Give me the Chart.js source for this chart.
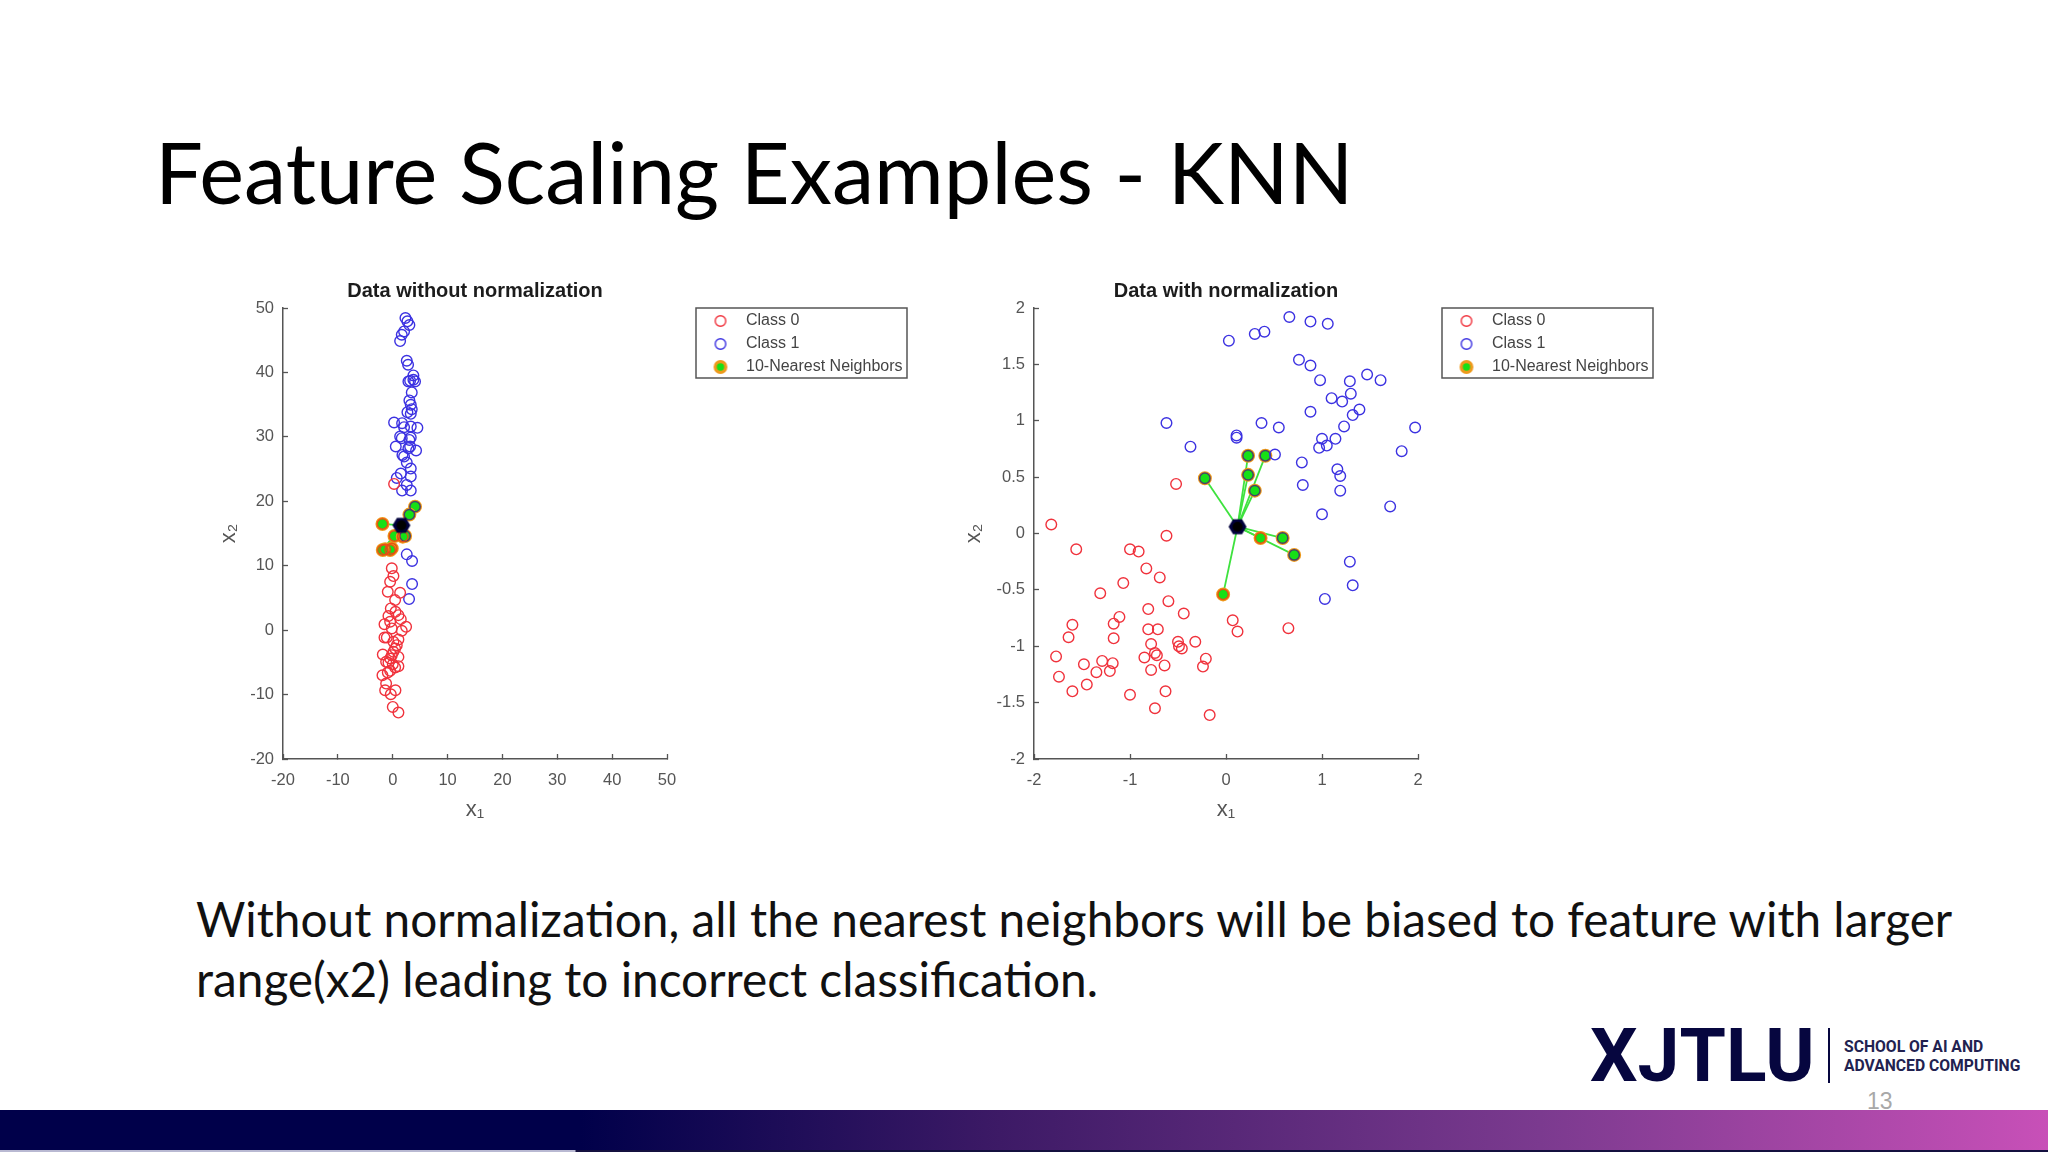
<!DOCTYPE html>
<html>
<head>
<meta charset="utf-8">
<title>Feature Scaling Examples - KNN</title>
<script src="https://cdn.jsdelivr.net/npm/chart.js@4"></script>
<style>
  html, body { margin: 0; padding: 0; background: #fff; }
  body { width: 2048px; height: 1152px; position: relative; overflow: hidden; font-family: Lato, "Open Sans", sans-serif; }
  .abs { position: absolute; white-space: nowrap; }
  canvas { position: absolute; }
  #heading { left: 155px; top: 119px; font-size: 84.8px; line-height: 104px; color: #000; }
  .body-text { left: 196px; font-size: 47.75px; line-height: 60px; color: #111; }
  #logo { left: 1590px; top: 1010px; font-family: Roboto, sans-serif; font-weight: 700; font-size: 75px; line-height: 90px; color: #06063f; }
  #logo-rule { left: 1828px; top: 1028px; width: 2px; height: 55px; background: #06063f; }
  .logo-small { left: 1844px; font-family: Roboto, sans-serif; font-weight: 700; font-size: 15.7px; line-height: 20px; color: #222250; }
  #page-no { left: 1867px; top: 1088px; font-size: 23px; line-height: 26px; color: #a8a8a8; font-family: "Liberation Sans", sans-serif; }
  #bar { left: 0; top: 1110px; width: 2048px; height: 40px;
    background: linear-gradient(90deg, #00004a 0, #00004a 580px, #3d1a66 1000px, #7b3a8f 1540px, #c850b8 2048px); }
  #bar-under { left: 0; top: 1150px; width: 2048px; height: 2px; background: linear-gradient(90deg, #b9b9d2 0, #b9b9d2 575px, #14103f 576px, #14103f 100%); }
</style>
</head>
<body>
<div class="abs" id="heading">Feature Scaling Examples - KNN</div>
<canvas id="left-chart" width="720" height="580" style="left:200px;top:270px;width:720px;height:580px"></canvas>
<canvas id="right-chart" width="710" height="580" style="left:951px;top:270px;width:710px;height:580px"></canvas>
<div class="abs body-text" style="top:889px">Without normalization, all the nearest neighbors will be biased to feature with larger</div>
<div class="abs body-text" style="top:949px">range(x2) leading to incorrect classification.</div>
<div class="abs" id="logo">XJTLU</div>
<div class="abs" id="logo-rule"></div>
<div class="abs logo-small" style="top:1037px">SCHOOL OF AI AND</div>
<div class="abs logo-small" style="top:1056px">ADVANCED COMPUTING</div>
<div class="abs" id="page-no">13</div>
<div class="abs" id="bar"></div>
<div class="abs" id="bar-under"></div>

<script>
// Dados - grafico sem normalizacao
const leftClass0X = [-0.17,0.13,-0.47,-0.90,1.35,0.44,-0.35,0.50,1.04,-0.78,1.47,-0.47,-1.50,2.44,-0.17,1.65,-1.50,-1.08,1.04,0.13,0.74,0.44,0.13,-1.81,-0.17,1.04,-0.47,-1.20,-0.78,0.01,1.04,0.44,-0.47,-0.90,-1.87,-1.20,-1.38,0.50,-0.35,0.01,1.04,0.25];
const leftClass0Y = [9.59,8.39,7.51,5.96,5.79,4.66,3.37,2.85,2.33,2.18,1.71,1.30,0.93,0.52,0.26,-0.10,-1.14,-1.14,-1.45,-1.81,-2.33,-2.85,-3.37,-3.78,-3.89,-4.15,-4.40,-4.92,-5.08,-5.28,-5.60,-5.80,-6.32,-6.58,-7.00,-8.29,-9.33,-9.33,-9.95,-11.92,-12.80,22.69];
const leftClass1X = [2.32,2.68,3.04,2.07,1.65,1.35,2.56,2.80,3.77,3.17,3.77,2.86,4.07,3.47,3.04,3.29,3.47,2.68,3.29,0.25,1.71,2.07,3.29,4.50,1.35,1.65,3.29,3.04,0.56,3.17,2.86,4.26,1.77,2.07,2.56,3.29,1.47,0.74,3.29,2.56,1.71,3.29,2.56,3.53,3.53,2.98];
const leftClass1Y = [48.45,47.93,47.36,46.37,45.85,44.87,41.81,41.19,39.53,38.70,38.86,38.60,38.60,36.89,35.65,34.97,34.30,33.83,33.58,32.23,32.12,31.50,31.61,31.40,30.05,29.79,29.90,29.53,28.50,28.50,28.24,27.88,27.20,26.94,26.01,25.08,24.30,23.63,23.83,22.54,21.66,21.66,11.76,10.73,7.15,4.82];
const leftNear0X = [-1.87,0.32,1.83,-1.38,-0.17,-0.47,-1.81];
const leftNear0Y = [16.48,14.61,14.51,12.54,12.69,12.44,12.44];
const leftNear1X = [4.07,3.04,2.26];
const leftNear1Y = [19.17,17.93,14.61];
const leftQueryX = [1.59];
const leftQueryY = [16.27];

// Dados - grafico com normalizacao
const rightClass0X = [-0.52,-1.82,-1.56,-1.00,-0.91,-0.62,-0.83,-0.69,-1.07,-1.31,-0.60,-0.81,-0.44,-1.11,-1.17,-1.60,0.07,0.65,0.12,-0.81,-0.71,-1.64,-1.17,-0.50,-0.32,-0.78,-0.49,-0.46,-0.74,-0.72,-1.77,-0.85,-0.21,-1.48,-1.29,-1.18,-0.64,-0.24,-0.78,-1.21,-1.35,-1.74,-1.45,-1.60,-0.63,-1.00,-0.74,-0.17];
const rightClass0Y = [0.44,0.08,-0.14,-0.14,-0.16,-0.02,-0.31,-0.39,-0.44,-0.53,-0.60,-0.67,-0.71,-0.74,-0.80,-0.81,-0.77,-0.84,-0.87,-0.85,-0.85,-0.92,-0.93,-0.96,-0.96,-0.98,-1.00,-1.02,-1.06,-1.08,-1.09,-1.10,-1.11,-1.16,-1.13,-1.15,-1.17,-1.18,-1.21,-1.22,-1.23,-1.27,-1.34,-1.40,-1.40,-1.43,-1.55,-1.61];
const rightClass1X = [0.03,0.30,0.40,0.66,0.88,1.06,0.76,0.88,0.98,1.29,1.47,1.61,1.30,1.10,1.21,0.88,1.39,1.32,-0.62,0.37,0.55,1.23,1.97,0.11,0.11,1.00,1.14,1.05,0.97,-0.37,1.83,0.51,0.79,1.16,1.19,0.80,1.19,1.71,1.00,1.29,1.32,1.03];
const rightClass1Y = [1.71,1.77,1.79,1.92,1.88,1.86,1.54,1.49,1.36,1.35,1.41,1.36,1.24,1.20,1.17,1.08,1.10,1.05,0.98,0.98,0.94,0.95,0.94,0.87,0.85,0.84,0.84,0.78,0.76,0.77,0.73,0.70,0.63,0.57,0.51,0.43,0.38,0.24,0.17,-0.25,-0.46,-0.58];
const rightNear0X = [0.36,-0.03];
const rightNear0Y = [-0.04,-0.54];
const rightNear1X = [0.23,0.41,0.23,0.30,-0.22,0.59,0.71];
const rightNear1Y = [0.69,0.69,0.52,0.38,0.49,-0.04,-0.19];
const rightQueryX = [0.12];
const rightQueryY = [0.06];

const legendLabels = ['Class 0', 'Class 1', '10-Nearest Neighbors'];

const RED = 'rgb(240,50,60)';
const BLUE = 'rgb(60,50,225)';
const ORANGE = '#ee9a1c';
const GREEN = '#16e016';
const LINE_GREEN = '#3ee23e';
const AXIS = '#555555';

function zip(xs, ys) {
  return xs.map((x, i) => ({ x: x, y: ys[i] }));
}

// Desenha um marcador pequeno para usar como pointStyle na legenda
function markerCanvas(stroke, fill, radius, lineWidth) {
  const c = document.createElement('canvas');
  c.width = c.height = 24;
  const ctx = c.getContext('2d');
  ctx.beginPath();
  ctx.arc(12, 12, radius, 0, Math.PI * 2);
  if (fill) { ctx.fillStyle = fill; ctx.fill(); }
  ctx.strokeStyle = stroke;
  ctx.lineWidth = lineWidth;
  ctx.stroke();
  return c;
}

function hexagonCanvas() {
  const c = document.createElement('canvas');
  c.width = c.height = 20;
  const ctx = c.getContext('2d');
  ctx.beginPath();
  for (let i = 0; i < 6; i++) {
    const a = Math.PI / 3 * i;
    ctx.lineTo(10 + 9 * Math.cos(a), 10 + 8.6 * Math.sin(a));
  }
  ctx.closePath();
  ctx.fillStyle = '#00003c';
  ctx.fill();
  ctx.beginPath();
  ctx.arc(10, 10, 5, 0, Math.PI * 2);
  ctx.fillStyle = '#000';
  ctx.fill();
  return c;
}

const legendMarkers = [
  markerCanvas(RED, null, 5.3, 1.4),
  markerCanvas(BLUE, null, 5.3, 1.4),
  markerCanvas(ORANGE, GREEN, 5.3, 3.2)
];

// Coloca a legenda no lugar certo e desenha a moldura dela
const legendFrame = {
  id: 'legendFrame',
  afterLayout(chart, args, opts) {
    const legend = chart.legend;
    legend.left = opts.x;
    legend.right = opts.x + opts.w;
    legend.top = opts.y - 2;
    legend.bottom = chart.height;
  },
  afterDraw(chart, args, opts) {
    const ctx = chart.ctx;
    ctx.save();
    ctx.strokeStyle = AXIS;
    ctx.lineWidth = 1.5;
    ctx.strokeRect(opts.x, opts.y, opts.w, opts.h);
    ctx.restore();
  }
};

function makeChart(id, cfg) {
  const points = (data, extra) => Object.assign({
    data: data, showLine: false, pointHoverRadius: 0, clip: false
  }, extra);

  const near = zip(cfg.near0X, cfg.near0Y).concat(zip(cfg.near1X, cfg.near1Y));
  const query = zip(cfg.queryX, cfg.queryY);

  const lineSets = near.map(p => ({
    data: [query[0], p], showLine: true, pointRadius: 0,
    borderColor: LINE_GREEN, borderWidth: 1.8, order: 4
  }));

  return new Chart(document.getElementById(id), {
    type: 'scatter',
    data: {
      datasets: [
        points(zip(cfg.class0X, cfg.class0Y), { pointRadius: 5.3, pointBorderWidth: 1.4, pointBorderColor: RED, pointBackgroundColor: 'transparent', order: 2 }),
        points(zip(cfg.class1X, cfg.class1Y), { pointRadius: 5.3, pointBorderWidth: 1.4, pointBorderColor: BLUE, pointBackgroundColor: 'transparent', order: 2 }),
        points(near, { pointRadius: 6, pointBorderWidth: 2, pointBorderColor: ORANGE, pointBackgroundColor: GREEN, order: 3 }),
        points(zip(cfg.near0X, cfg.near0Y), { pointRadius: 5.2, pointBorderWidth: 1.5, pointBorderColor: 'rgba(235,70,20,0.85)', pointBackgroundColor: 'transparent', order: 2 }),
        points(zip(cfg.near1X, cfg.near1Y), { pointRadius: 5.2, pointBorderWidth: 1.5, pointBorderColor: 'rgba(60,55,110,0.9)', pointBackgroundColor: 'transparent', order: 2 }),
        points(query, { pointStyle: hexagonCanvas(), pointRadius: 9, order: 0 })
      ].concat(lineSets)
    },
    plugins: [legendFrame],
    options: {
      responsive: false,
      animation: false,
      events: [],
      layout: { padding: { right: cfg.padRight } },
      plugins: {
        tooltip: { enabled: false },
        title: {
          display: true,
          text: cfg.title,
          fullSize: false,
          color: '#1c1c1c',
          font: { family: 'Liberation Sans', size: 20, weight: 'bold' },
          padding: { top: 9, bottom: 5 }
        },
        legend: {
          position: 'right',
          align: 'start',
          maxWidth: 211,
          labels: {
            color: '#444',
            font: { family: 'Liberation Sans', size: 16 },
            usePointStyle: true,
            pointStyleWidth: 35,
            padding: 7,
            generateLabels: () => legendLabels.map((text, i) => ({
              text: text, pointStyle: legendMarkers[i], fontColor: '#444', lineWidth: 0, datasetIndex: i
            }))
          }
        },
        legendFrame: cfg.frame
      },
      scales: {
        x: {
          min: cfg.xMin, max: cfg.xMax,
          afterFit: s => { s.height = 91; },
          border: { color: AXIS, width: 1.5 },
          grid: { drawOnChartArea: false, tickLength: -5, color: AXIS, tickWidth: 1.3 },
          ticks: { stepSize: cfg.xStep, padding: 16.8, maxRotation: 0, autoSkip: false, color: '#555', font: { family: 'Liberation Sans', size: 16.5 }, callback: v => String(v) },
          title: { display: true, text: 'x₁', color: '#555', font: { family: 'Liberation Sans', size: 22 }, padding: { top: 0, bottom: 27 } }
        },
        y: {
          min: cfg.yMin, max: cfg.yMax,
          afterFit: s => { s.width = cfg.yWidth; },
          border: { color: AXIS, width: 1.5 },
          grid: { drawOnChartArea: false, tickLength: -5, color: AXIS, tickWidth: 1.3 },
          ticks: { stepSize: cfg.yStep, padding: 14, autoSkip: false, color: '#555', font: { family: 'Liberation Sans', size: 16.5 }, callback: v => String(v) },
          title: { display: true, text: 'x₂', color: '#555', font: { family: 'Liberation Sans', size: 22 }, padding: { top: cfg.yTitlePad, bottom: 0 } }
        }
      }
    }
  });
}

makeChart('left-chart', {
  title: 'Data without normalization',
  class0X: leftClass0X, class0Y: leftClass0Y, class1X: leftClass1X, class1Y: leftClass1Y,
  near0X: leftNear0X, near0Y: leftNear0Y, near1X: leftNear1X, near1Y: leftNear1Y,
  queryX: leftQueryX, queryY: leftQueryY,
  xMin: -20, xMax: 50, xStep: 10, yMin: -20, yMax: 50, yStep: 10,
  yWidth: 83, yTitlePad: 16, padRight: 42,
  frame: { x: 496, y: 38, w: 211, h: 70 }
});

makeChart('right-chart', {
  title: 'Data with normalization',
  class0X: rightClass0X, class0Y: rightClass0Y, class1X: rightClass1X, class1Y: rightClass1Y,
  near0X: rightNear0X, near0Y: rightNear0Y, near1X: rightNear1X, near1Y: rightNear1Y,
  queryX: rightQueryX, queryY: rightQueryY,
  xMin: -2, xMax: 2, xStep: 1, yMin: -2, yMax: 2, yStep: 0.5,
  yWidth: 83, yTitlePad: 10, padRight: 32,
  frame: { x: 491, y: 38, w: 211, h: 70 }
});
</script>
</body>
</html>
